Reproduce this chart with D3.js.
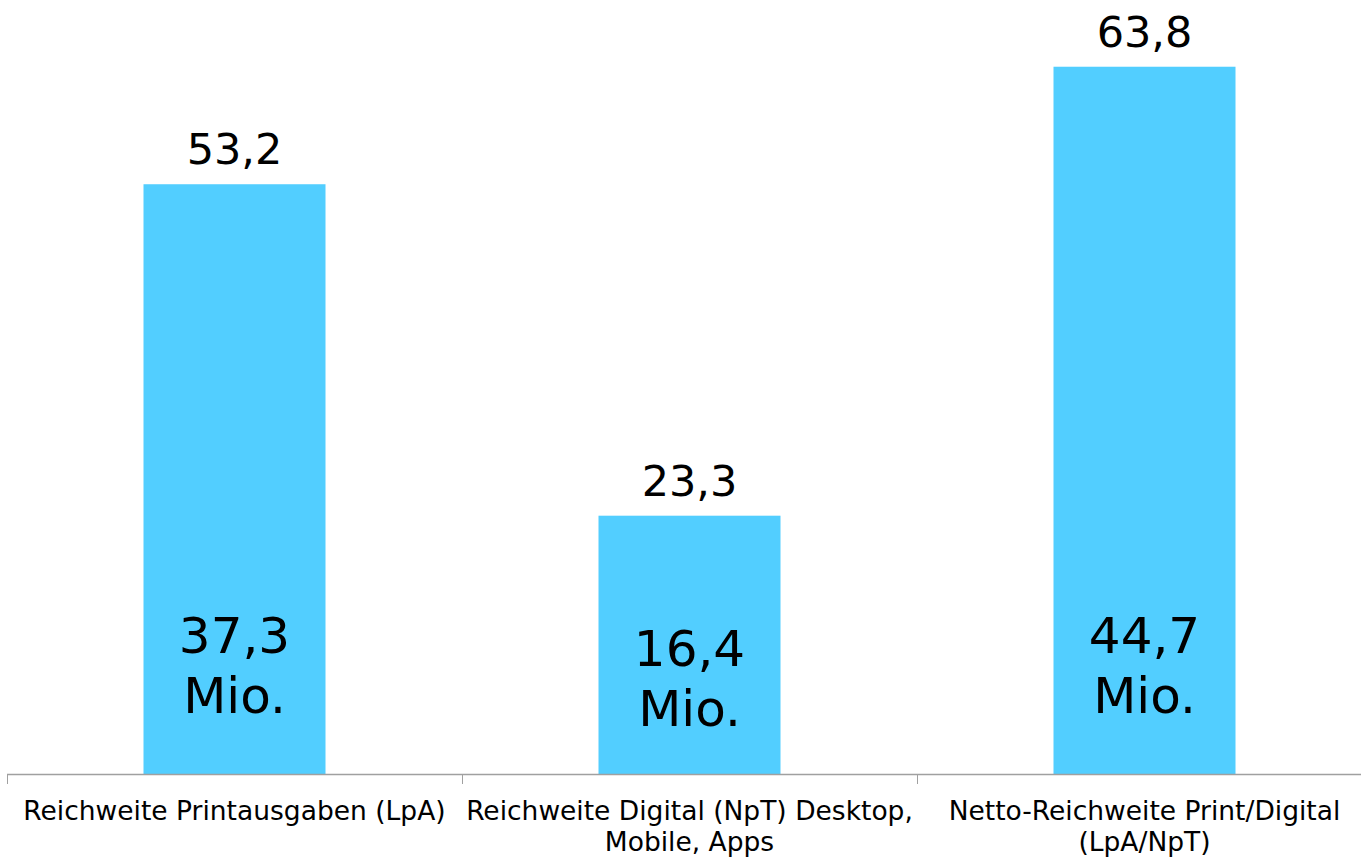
<!DOCTYPE html>
<html>
<head>
<meta charset="utf-8">
<script src="https://cdn.jsdelivr.net/npm/d3@7"></script>
<style>
  html, body { margin: 0; padding: 0; background: #fff; }
  svg { display: block; }
  text { font-family: "DejaVu Sans", Verdana, sans-serif; fill: #000; }
</style>
</head>
<body>
<svg id="chart" width="1361" height="859"></svg>
<script>
// ---- data ----
const categories = [
  "Reichweite Printausgaben (LpA)",
  "Reichweite Digital (NpT) Desktop,\nMobile, Apps",
  "Netto-Reichweite Print/Digital\n(LpA/NpT)"
];
const percentValues = [53.2, 23.3, 63.8];
const percentLabels = ["53,2", "23,3", "63,8"];
const millionLabels = ["37,3", "16,4", "44,7"];
const unitLabel = "Mio.";

// ---- layout ----
const svg = d3.select("#chart");
const baseY = 774;
const x = d3.scaleBand().domain(categories).range([7, 1372]).padding(0);
const y = d3.scaleLinear().domain([0, 70]).range([baseY, -2]);
const barW = x.bandwidth() * 0.4;
const barColor = "#52CEFF";

// bars
svg.selectAll("rect.bar").data(categories).join("rect")
  .attr("class", "bar")
  .attr("x", d => x(d) + (x.bandwidth() - barW) / 2)
  .attr("width", barW)
  .attr("y", (d, i) => y(percentValues[i]))
  .attr("height", (d, i) => baseY - y(percentValues[i]))
  .attr("fill", barColor);

// value labels above
svg.selectAll("text.val").data(categories).join("text")
  .attr("class", "val")
  .attr("x", d => x(d) + x.bandwidth() / 2)
  .attr("y", (d, i) => y(percentValues[i]) - 20)
  .attr("text-anchor", "middle")
  .attr("font-size", 43)
  .text((d, i) => percentLabels[i]);

// inner labels
const innerShift = [0, 13, 0];
categories.forEach((c, i) => {
  const t = svg.append("text")
    .attr("text-anchor", "middle")
    .attr("font-size", 50);
  const cx = x(c) + x.bandwidth() / 2;
  t.append("tspan").attr("x", cx).attr("y", baseY - 121 + innerShift[i]).text(millionLabels[i]);
  t.append("tspan").attr("x", cx).attr("y", baseY - 61 + innerShift[i]).text(unitLabel);
});

// axis
const axisColor = "#a0a0a0";
svg.append("line")
  .attr("x1", x.range()[0]).attr("x2", x.range()[1])
  .attr("y1", baseY + 0.5).attr("y2", baseY + 0.5)
  .attr("stroke", axisColor).attr("stroke-width", 1.3);
const edges = categories.map(c => x(c)).concat([x.range()[1]]);
svg.selectAll("line.tick").data(edges).join("line")
  .attr("class", "tick")
  .attr("x1", d => Math.round(d) + 0.5).attr("x2", d => Math.round(d) + 0.5)
  .attr("y1", baseY).attr("y2", baseY + 10)
  .attr("stroke", axisColor).attr("stroke-width", 1);

// category labels
categories.forEach(c => {
  const lines = c.split("\n");
  const t = svg.append("text")
    .attr("text-anchor", "middle")
    .attr("font-size", 26.5);
  const cx = x(c) + x.bandwidth() / 2;
  lines.forEach((ln, k) => {
    t.append("tspan").attr("x", cx).attr("y", 820 + k * 30.5).text(ln);
  });
});
</script>
</body>
</html>
